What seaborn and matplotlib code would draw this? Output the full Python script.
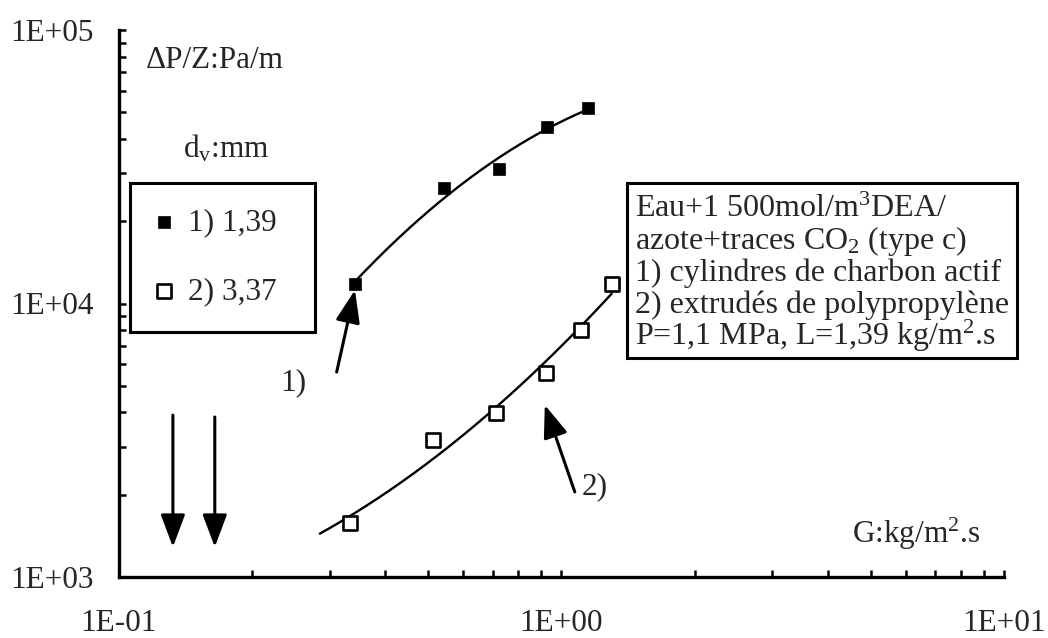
import numpy as np
import pandas as pd
import matplotlib
matplotlib.use("Agg")
import matplotlib.pyplot as plt
import seaborn as sns
from matplotlib.patches import Rectangle
from matplotlib.ticker import FixedLocator, FixedFormatter, LogLocator, NullFormatter

# ---------------- data ----------------
g1 = [0.342, 0.543, 0.723, 0.927, 1.15]          # G, kg/m2.s  (series 1)
dp1 = [11800, 26400, 31000, 44200, 51900]        # dP/Z, Pa/m
g2 = [0.333, 0.513, 0.714, 0.923, 1.11, 1.30]    # series 2
dp2 = [1575, 3170, 3980, 5570, 8000, 11800]
label1 = "1) 1,39"
label2 = "2) 3,37"
curve2_start = 0.285
x_ticks = [0.1, 1, 10]
x_tick_labels = ["1E-01", "1E+00", "1E+01"]
y_ticks = [1e3, 1e4, 1e5]
y_tick_labels = ["1E+03", "1E+04", "1E+05"]
box_lines = ["Eau+1 500mol/m$^3$DEA/",
             "azote+traces CO$_2$ (type c)",
             "1) cylindres de charbon actif",
             "2) extrudés de polypropylène",
             "P=1,1 MPa, L=1,39 kg/m$^2$.s"]

# ---------------- style ----------------
sns.set_style("ticks")
plt.rcParams["font.family"] = ["Liberation Serif", "DejaVu Serif"]
plt.rcParams["mathtext.fontset"] = "custom"
plt.rcParams["mathtext.rm"] = "Liberation Serif"
plt.rcParams["mathtext.it"] = "Liberation Serif:italic"
plt.rcParams["mathtext.bf"] = "Liberation Serif:bold"

W, H = 1048, 638
fig = plt.figure(figsize=(W / 100, H / 100), dpi=100)
ax = fig.add_axes([118.5 / W, 1 - 577 / H, (1004 - 118.5) / W, (577 - 30) / H])


def fx(px):
    return px / W


def fy(py):
    return 1 - py / H


def fit_curve(x, y, x0, x1, n=200):
    c = np.polyfit(np.log10(x), np.log10(y), 2)
    xs = np.logspace(np.log10(x0), np.log10(x1), n)
    return xs, 10 ** np.polyval(c, np.log10(xs))


ax.set_xscale("log")
ax.set_yscale("log")

xs1, ys1 = fit_curve(g1, dp1, g1[0], g1[-1])
xs2, ys2 = fit_curve(g2, dp2, curve2_start, g2[-1])
sns.lineplot(x=xs1, y=ys1, color="black", lw=1.7, ax=ax, estimator=None, sort=False)
sns.lineplot(x=xs2, y=ys2, color="black", lw=1.7, ax=ax, estimator=None, sort=False)

sns.scatterplot(x=g1, y=dp1, marker="s", s=64, color="black", edgecolor="black",
                linewidth=0.5, label=label1, ax=ax, zorder=3)
sns.scatterplot(x=g2, y=dp2, marker="s", s=105, facecolor="white", edgecolor="black",
                linewidth=1.9, label=label2, ax=ax, zorder=3)

ax.set_xlim(0.1, 10)
ax.set_ylim(1e3, 1e5)
ax.set_xlabel("")
ax.set_ylabel("")

ax.xaxis.set_major_locator(FixedLocator(x_ticks))
ax.xaxis.set_major_formatter(FixedFormatter(x_tick_labels))
ax.yaxis.set_major_locator(FixedLocator(y_ticks))
ax.yaxis.set_major_formatter(FixedFormatter(y_tick_labels))
ax.xaxis.set_minor_locator(LogLocator(base=10, subs=np.arange(2, 10)))
ax.yaxis.set_minor_locator(LogLocator(base=10, subs=np.arange(2, 10)))
ax.xaxis.set_minor_formatter(NullFormatter())
ax.yaxis.set_minor_formatter(NullFormatter())
ax.tick_params(axis="both", which="both", direction="in", length=5, width=1.8,
               color="black")
ax.tick_params(axis="x", which="major", labelsize=22.5, pad=23)
ax.tick_params(axis="y", which="major", labelsize=22.5, pad=18)

for s in ["top", "right"]:
    ax.spines[s].set_visible(False)
for s in ["left", "bottom"]:
    ax.spines[s].set_linewidth(2.4)
    ax.spines[s].set_color("black")

# legend
leg = ax.legend(loc="upper left", bbox_to_anchor=(fx(130), fy(183), (315 - 130) / W, 0),
                bbox_transform=fig.transFigure, mode="expand", borderaxespad=0,
                fontsize=22.5, frameon=True, fancybox=False, framealpha=1,
                edgecolor="black", borderpad=0.8, labelspacing=1.3,
                handlelength=0.6, handletextpad=0.45)
leg.get_frame().set_linewidth(2.2)

# annotations
TS = 22.5
fig.text(fx(146), fy(68), "ΔP/Z:Pa/m", fontsize=TS, va="baseline", ha="left")
fig.text(fx(183), fy(157), r"d$_\mathrm{v}$:mm", fontsize=TS, va="baseline", ha="left")
fig.text(fx(293), fy(383), "1)", fontsize=TS, va="center", ha="center")
fig.text(fx(582), fy(487), "2)", fontsize=TS, va="center", ha="left")
fig.text(fx(852), fy(543), r"G:kg/m$^2$.s", fontsize=TS, va="baseline", ha="left")

arrow_kw = dict(arrowstyle="-|>,head_length=0.8,head_width=0.3", color="black",
                lw=2.2, shrinkA=0, shrinkB=0, mutation_scale=25)
ax.annotate("", xy=(0.342, 11200), xytext=(0.311, 5616), arrowprops=arrow_kw)
ax.annotate("", xy=(0.918, 4256), xytext=(1.073, 2047), arrowprops=arrow_kw)
ax.annotate("", xy=(0.1327, 1287), xytext=(0.1327, 3909), arrowprops=arrow_kw)
ax.annotate("", xy=(0.165, 1287), xytext=(0.165, 3846), arrowprops=arrow_kw)

# condition box
fig.patches.append(Rectangle((fx(627), fy(358)), (1017 - 627) / W, (358 - 183) / H,
                             transform=fig.transFigure, facecolor="white",
                             edgecolor="black", lw=2.2, zorder=1))
for i, line in enumerate(box_lines):
    fig.text(fx(635), fy(217 + 32 * i), line, fontsize=23, va="baseline",
             ha="left", zorder=2)

fig.savefig("out.png", dpi=100, facecolor="white")
